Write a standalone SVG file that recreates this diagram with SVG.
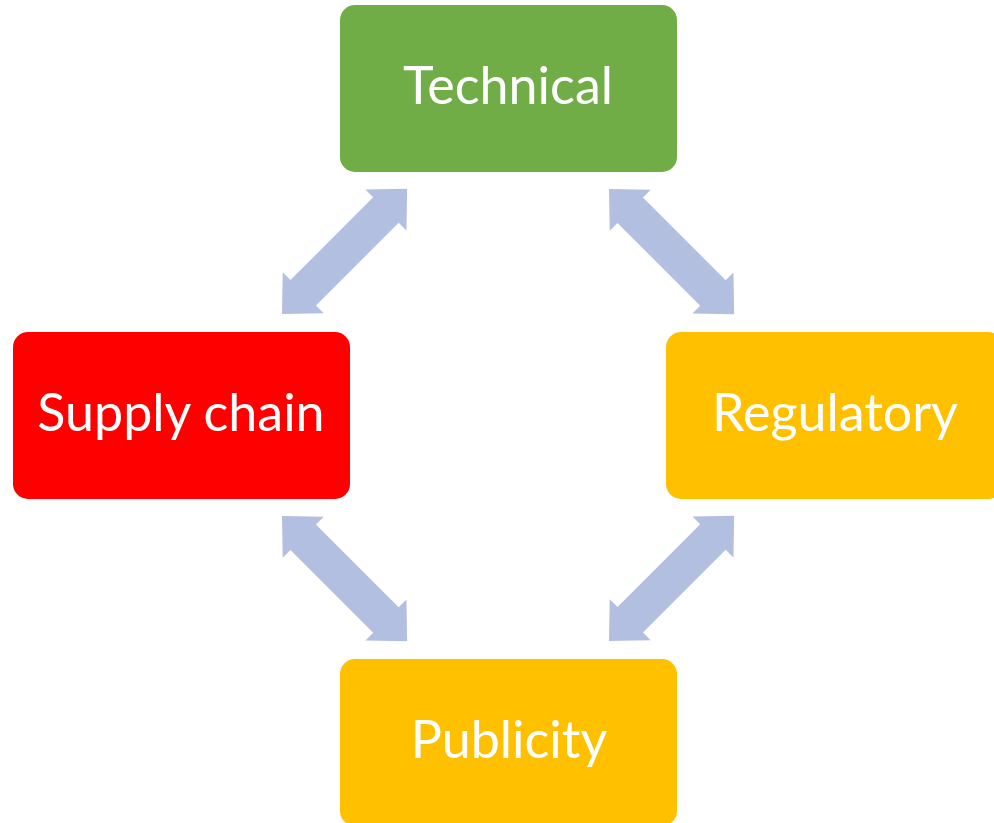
<svg xmlns="http://www.w3.org/2000/svg" width="994" height="823" viewBox="0 0 994 823">
<style>
.box{stroke:none}
.lbl{font-family:Lato,"Open Sans",sans-serif;font-size:52px;fill:#FFFFFF;text-anchor:middle}
.arr{fill:#B2BFE0}
</style>
<defs>
<polygon id="dbl" points="0,0 30,-29 30,-18 147,-18 147,-29 177,0 147,29 147,18 30,18 30,29"/>
</defs>
<rect width="994" height="823" fill="#FFFFFF"/>
<g id="connectors" class="arr">
<use href="#dbl" transform="translate(282,314) rotate(-45)"/>
<use href="#dbl" transform="translate(609,189) rotate(45)"/>
<use href="#dbl" transform="translate(282,516) rotate(45)"/>
<use href="#dbl" transform="translate(609,641) rotate(-45)"/>
</g>
<g id="technical">
<rect class="box" x="340" y="5" width="337" height="167" rx="15" fill="#70AD47"/>
<text class="lbl" x="508" y="104">Technical</text>
</g>
<g id="supply-chain">
<rect class="box" x="13" y="332" width="337" height="167" rx="15" fill="#FF0000"/>
<text class="lbl" x="181" y="431">Supply chain</text>
</g>
<g id="regulatory">
<rect class="box" x="666" y="332" width="337" height="167" rx="15" fill="#FFC000"/>
<text class="lbl" x="835" y="431">Regulatory</text>
</g>
<g id="publicity">
<rect class="box" x="340" y="659" width="337" height="167" rx="15" fill="#FFC000"/>
<text class="lbl" x="509" y="758">Publicity</text>
</g>
</svg>
